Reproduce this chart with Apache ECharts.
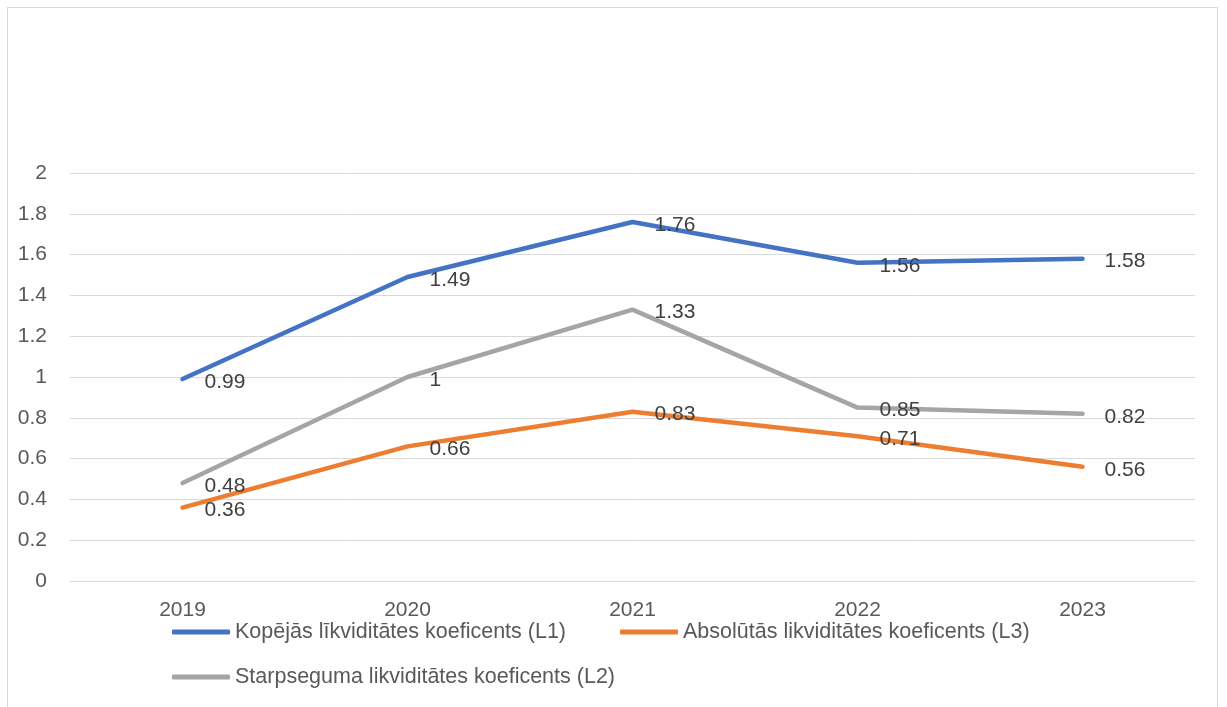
<!DOCTYPE html>
<html>
<head>
<meta charset="utf-8">
<script src="https://cdn.jsdelivr.net/npm/echarts@6/dist/echarts.min.js"></script>
<style>
  html, body { margin: 0; padding: 0; background: #fff; }
  #frame {
    position: absolute; left: 7px; top: 7px; width: 1211px; height: 720px;
    border: 1px solid #d9d9d9; box-sizing: border-box;
  }
  #chart { position: absolute; left: 0; top: 0; width: 1227px; height: 707px; }
</style>
</head>
<body>
<div id="frame"></div>
<div id="chart"></div>
<script>
const years = ['2019', '2020', '2021', '2022', '2023']
const kopejas = [0.99, 1.49, 1.76, 1.56, 1.58]
const absolutas = [0.36, 0.66, 0.83, 0.71, 0.56]
const starpseguma = [0.48, 1, 1.33, 0.85, 0.82]
const names = [
  'Kopējās līkviditātes koeficents (L1)',
  'Absolūtās likviditātes koeficents (L3)',
  'Starpseguma likviditātes koeficents (L2)'
]

const textColor = '#595959'
const font = 'Liberation Sans'

const chart = echarts.init(document.getElementById('chart'))

function line(name, data, color) {
  return {
    name,
    type: 'line',
    data,
    symbol: 'circle',
    symbolSize: 0,
    showSymbol: true,
    lineStyle: { color, width: 4.5, cap: 'round', join: 'round' },
    itemStyle: { color },
    label: {
      show: true,
      position: 'right',
      distance: 22,
      offset: [0, 3],
      color: '#404040',
      fontFamily: font,
      fontSize: 21
    }
  }
}

const legendText = { color: textColor, fontFamily: font, fontSize: 21.5 }

chart.setOption({
  animation: false,
  grid: { left: 70, right: 32, top: 173, bottom: 126 },
  legend: [
    {
      data: [names[0], names[1]],
      left: 172, top: 621, padding: 0,
      icon: 'roundRect', itemWidth: 58, itemHeight: 5, itemGap: 54,
      textStyle: legendText
    },
    {
      data: [names[2]],
      left: 172, top: 666, padding: 0,
      icon: 'roundRect', itemWidth: 58, itemHeight: 5,
      textStyle: legendText
    }
  ],
  xAxis: {
    type: 'category',
    data: years,
    boundaryGap: true,
    axisLine: { lineStyle: { color: '#d9d9d9', width: 1 } },
    axisTick: { show: false },
    axisLabel: { color: textColor, fontFamily: font, fontSize: 21, margin: 19 }
  },
  yAxis: {
    type: 'value',
    min: 0, max: 2, interval: 0.2,
    axisLine: { show: false },
    axisTick: { show: false },
    splitLine: { lineStyle: { color: '#d9d9d9', width: 1 } },
    axisLabel: { color: textColor, fontFamily: font, fontSize: 21, margin: 23 }
  },
  series: [
    line(names[0], kopejas, '#4472C4'),
    line(names[1], absolutas, '#ED7D31'),
    line(names[2], starpseguma, '#A5A5A5')
  ]
})
</script>
</body>
</html>
